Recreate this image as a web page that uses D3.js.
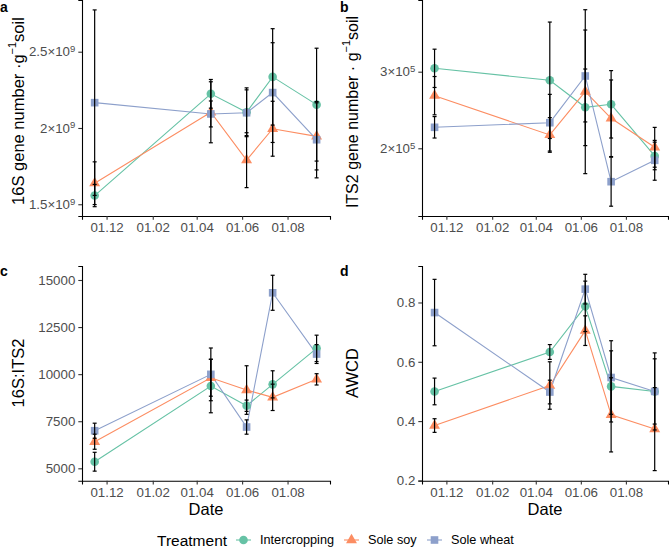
<!DOCTYPE html>
<html><head><meta charset="utf-8">
<script src="https://cdn.jsdelivr.net/npm/d3@7"></script>
<style>
body{margin:0;background:#fff;}
svg{display:block;font-family:"Liberation Sans",Arial,Helvetica,sans-serif;}
</style></head>
<body><svg id="chart" width="669" height="547"></svg>
<script>
const dates = ["2020-11-15","2021-04-20","2021-06-07","2021-07-12","2021-09-09"];
const treatments = ["Intercropping","Sole soy","Sole wheat"];
const colors = ["#66C2A5","#FC8D62","#8DA0CB"];
const xTicks = ["2020-12-01","2021-02-01","2021-04-01","2021-06-01","2021-08-01"];
const xDomain = ["2020-10-29","2021-09-27"];

// a: 16S gene number
const g16_inter = [1.557e9, 2.224e9, 2.103e9, 2.335e9, 2.153e9];
const g16_soy   = [1.638e9, 2.103e9, 1.789e9, 1.995e9, 1.945e9];
const g16_wheat = [2.166e9, 2.092e9, 2.100e9, 2.232e9, 1.923e9];
const g16_inter_se = [0.073e9, 0.094e9, 0.16e9, 0.316e9, 0.37e9];
const g16_soy_se   = [0.14e9, 0.20e9, 0.18e9, 0.18e9, 0.22e9];
const g16_wheat_se = [0.608e9, 0.085e9, 0.15e9, 0.327e9, 0.25e9];
const g16_ticks = [1.5e9, 2e9, 2.5e9];
const g16_tickLabels = [["1.5","9"],["2","9"],["2.5","9"]];

// b: ITS2 gene number
const its_inter = [3.044e5, 2.888e5, 2.535e5, 2.574e5, 1.90e5];
const its_soy   = [2.687e5, 2.174e5, 2.739e5, 2.392e5, 2.013e5];
const its_wheat = [2.274e5, 2.334e5, 2.944e5, 1.564e5, 1.843e5];
const its_inter_se = [0.25e5, 0.76e5, 0.5e5, 0.44e5, 0.18e5];
const its_soy_se   = [0.25e5, 0.226e5, 1.07e5, 0.5e5, 0.26e5];
const its_wheat_se = [0.14e5, 0.37e5, 0.6e5, 0.32e5, 0.26e5];
const its_ticks = [2e5, 3e5];
const its_tickLabels = [["2","5"],["3","5"]];

// c: 16S:ITS2
const ratio_inter = [5350, 9369, 8323, 9459, 11370];
const ratio_soy   = [6412, 9809, 9156, 8769, 9724];
const ratio_wheat = [6996, 9989, 7192, 14321, 11067];
const ratio_inter_se = [500, 1420, 300, 720, 700];
const ratio_soy_se   = [400, 980, 1290, 700, 300];
const ratio_wheat_se = [400, 1400, 380, 930, 500];
const ratio_ticks = [5000, 7500, 10000, 12500, 15000];

// d: AWCD
const awcd_inter = [0.500, 0.633, 0.787, 0.517, 0.500];
const awcd_soy   = [0.385, 0.520, 0.705, 0.421, 0.373];
const awcd_wheat = [0.766, 0.498, 0.845, 0.547, 0.500];
const awcd_inter_se = [0.045, 0.025, 0.085, 0.12, 0.11];
const awcd_soy_se   = [0.023, 0.08, 0.05, 0.125, 0.14];
const awcd_wheat_se = [0.112, 0.04, 0.05, 0.124, 0.13];
const awcd_ticks = [0.2, 0.4, 0.6, 0.8];

const parse = d3.timeParse("%Y-%m-%d");
const svg = d3.select("#chart");
const shapes = [d3.symbolCircle, d3.symbolTriangle, d3.symbolSquare];
const shapeSize = [58, 52, 58];

function panel(opt){
  const g = svg.append("g");
  const x = d3.scaleTime().domain(xDomain.map(parse)).range([opt.left, opt.right]);
  const y = d3.scaleLinear().domain(opt.yDomain).range([opt.bottom, opt.top]);
  const series = opt.series.map((vals,i)=>vals.map((v,j)=>({d:parse(dates[j]), v, se:opt.se[i][j], i})));

  // axes
  const xa = g.append("g").attr("transform",`translate(0,${opt.bottom})`)
    .call(d3.axisBottom(x).tickValues(xTicks.map(parse)).tickFormat(d3.timeFormat("%d.%m")).tickSizeOuter(0).tickSize(3.7).tickPadding(3));
  const ya = g.append("g").attr("transform",`translate(${opt.left},0)`)
    .call(d3.axisLeft(y).tickValues(opt.ticks).tickFormat(opt.fmt || (d=>d)).tickSizeOuter(0).tickSize(3.7).tickPadding(3));
  [xa,ya].forEach(a=>{
    a.select(".domain").attr("stroke","#000").attr("stroke-width",1.1);
    a.selectAll(".tick line").attr("stroke","#333").attr("stroke-width",1.1);
    a.selectAll(".tick text").attr("fill","#4D4D4D").attr("font-size",13.3).attr("font-family","Liberation Sans, Arial, sans-serif");
  });
  if(opt.tickLabels){
    ya.selectAll(".tick text").each(function(d,k){
      const t = d3.select(this); t.text(null);
      t.append("tspan").text(opt.tickLabels[k][0] + "\u00d710");
      t.append("tspan").attr("dy","-0.45em").attr("font-size",9.5).text(opt.tickLabels[k][1]);
    });
  }
  // axis titles
  if(opt.xtitle){
    g.append("text").attr("x",(opt.left+opt.right)/2).attr("y",opt.bottom+34)
      .attr("text-anchor","middle").attr("font-size",16.5).text("Date");
  }
  const yt = g.append("text").attr("transform",`translate(${opt.ytx},${opt.ytc}) rotate(-90)`)
    .attr("text-anchor","middle").attr("dominant-baseline","central").attr("font-size",opt.ytfs || 16.5);
  opt.ytitle.forEach(p=>{
    const s = yt.append("tspan").text(p.t);
    if(p.sup) s.attr("baseline-shift","super").attr("font-size",11);
  });
  // panel letter
  g.append("text").attr("x",opt.lx).attr("y",opt.ly).attr("font-weight","bold").attr("font-size",14).text(opt.letter);

  // lines
  const line = d3.line().x(d=>x(d.d)).y(d=>y(d.v));
  series.forEach((s,i)=>{
    g.append("path").datum(s).attr("d",line).attr("fill","none").attr("stroke",colors[i]).attr("stroke-width",1.1);
  });
  // points
  series.forEach((s,i)=>{
    g.selectAll(null).data(s).enter().append("path")
      .attr("transform",d=>`translate(${x(d.d)},${y(d.v)})`)
      .attr("d",d3.symbol().type(shapes[i]).size(shapeSize[i])).attr("fill",colors[i]);
  });
  // error bars
  const cw = 2;
  series.forEach((s,i)=>{
    s.forEach(d=>{
      const cx = x(d.d), y1 = y(d.v+d.se), y0 = y(d.v-d.se);
      g.append("line").attr("x1",cx).attr("x2",cx).attr("y1",y1).attr("y2",y0).attr("stroke","#000").attr("stroke-width",1.2);
      g.append("line").attr("x1",cx-cw).attr("x2",cx+cw).attr("y1",y1).attr("y2",y1).attr("stroke","#000").attr("stroke-width",1.2);
      g.append("line").attr("x1",cx-cw).attr("x2",cx+cw).attr("y1",y0).attr("y2",y0).attr("stroke","#000").attr("stroke-width",1.2);
    });
  });
}

panel({left:82,right:330,top:0,bottom:216,yDomain:[1.423e9,2.839e9],ticks:g16_ticks,tickLabels:g16_tickLabels,
  series:[g16_inter,g16_soy,g16_wheat],se:[g16_inter_se,g16_soy_se,g16_wheat_se],xtitle:false,
  ytx:18,ytc:111,ytitle:[{t:"16S gene number \u00b7g"},{t:"\u22121",sup:true},{t:"soil"}],letter:"a",lx:0,ly:12});
panel({left:422,right:668,top:0,bottom:216,yDomain:[1.116e5,3.936e5],ticks:its_ticks,tickLabels:its_tickLabels,
  series:[its_inter,its_soy,its_wheat],se:[its_inter_se,its_soy_se,its_wheat_se],xtitle:false,
  ytx:352,ytc:112,ytfs:16,ytitle:[{t:"ITS2 gene number \u00b7 g"},{t:"\u22121",sup:true},{t:"soil"}],letter:"b",lx:340,ly:12});
panel({left:82,right:330,top:266,bottom:480.7,yDomain:[4342,15743],ticks:ratio_ticks,fmt:d3.format("d"),
  series:[ratio_inter,ratio_soy,ratio_wheat],se:[ratio_inter_se,ratio_soy_se,ratio_wheat_se],xtitle:true,
  ytx:18,ytc:373,ytitle:[{t:"16S:ITS2"}],letter:"c",lx:0,ly:276});
panel({left:422,right:668,top:266,bottom:480.7,yDomain:[0.199,0.923],ticks:awcd_ticks,fmt:d3.format(".1f"),
  series:[awcd_inter,awcd_soy,awcd_wheat],se:[awcd_inter_se,awcd_soy_se,awcd_wheat_se],xtitle:true,
  ytx:352,ytc:373,ytitle:[{t:"AWCD"}],letter:"d",lx:340,ly:276});

// legend
const lg = svg.append("g");
lg.append("text").attr("x",157).attr("y",540).attr("dominant-baseline","central").attr("font-size",15.5).text("Treatment");
const keyX = [236, 344, 427];
treatments.forEach((t,i)=>{
  const kx = keyX[i];
  lg.append("line").attr("x1",kx).attr("x2",kx+15).attr("y1",540).attr("y2",540).attr("stroke",colors[i]).attr("stroke-width",1.1);
  lg.append("path").attr("transform",`translate(${kx+7.5},540)`).attr("d",d3.symbol().type(shapes[i]).size(shapeSize[i])).attr("fill",colors[i]);
  lg.append("text").attr("x",kx+24).attr("y",540).attr("dominant-baseline","central").attr("font-size",12.7).text(t);
});
</script></body></html>
